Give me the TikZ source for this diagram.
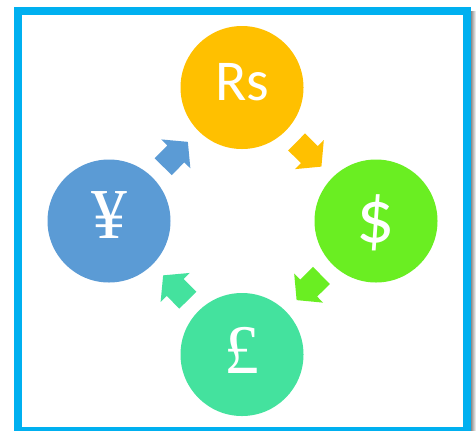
\documentclass[tikz,border=0pt]{standalone}
\usepackage{fontspec}
\setmainfont{Liberation Serif}
\newfontfamily\calfont{Carlito}
\usetikzlibrary{calc}
\definecolor{framecol}{HTML}{00B0F0}
\definecolor{rscol}{HTML}{FFC000}
\definecolor{dolcol}{HTML}{6AEE22}
\definecolor{poundcol}{HTML}{44E29E}
\definecolor{yencol}{HTML}{5B9BD5}
\tikzset{
  coin/.style={circle, fill=#1, minimum size=123bp, inner sep=0pt, text=white},
  blk/.style={fill=#1},
}
\newcommand\blockarr[3]{%
  \coordinate (m#1#2) at ($(#1)!0.5!(#2)$);
  \coordinate (t#1#2) at ($(m#1#2)!-17.5bp!(#2)$);
  \coordinate (h#1#2) at ($(m#1#2)!0.5bp!(#2)$);
  \coordinate (p#1#2) at ($(m#1#2)!17.5bp!(#2)$);
  \fill[blk=#3] ($(t#1#2)!12bp!90:(#2)$) -- ($(h#1#2)!12bp!90:(#2)$)
     -- ($(h#1#2)!20.5bp!90:(#2)$) -- (p#1#2)
     -- ($(h#1#2)!20.5bp!-90:(#2)$) -- ($(h#1#2)!12bp!-90:(#2)$)
     -- ($(t#1#2)!12bp!-90:(#2)$) -- cycle;}
\begin{document}
\begin{tikzpicture}[x=1bp,y=-1bp]
\useasboundingbox (0,0) rectangle (476,430);
\fill[white] (0,0) rectangle (476,430);
\shade[left color=black!45, right color=white] (471,11) rectangle (476,430);
\draw[framecol, line width=7.7bp] (18.2,11.2) rectangle (467,431.3);
\node[coin=rscol, text depth=12bp, font=\calfont\fontsize{58}{58}\selectfont] (rs) at (242,87.5) {Rs};
\node[coin=dolcol, text depth=5bp, font=\calfont\fontsize{76}{76}\selectfont] (dol) at (376,221) {\$};
\node[coin=poundcol, text depth=9bp, font=\fontsize{70}{70}\selectfont] (pound) at (242,354.5) {£};
\node[coin=yencol, text depth=11bp, font=\fontsize{72}{72}\selectfont] (yen) at (109,221) {¥};
\blockarr{rs}{dol}{rscol}
\blockarr{dol}{pound}{dolcol}
\blockarr{pound}{yen}{poundcol}
\blockarr{yen}{rs}{yencol}
\end{tikzpicture}
\end{document}
